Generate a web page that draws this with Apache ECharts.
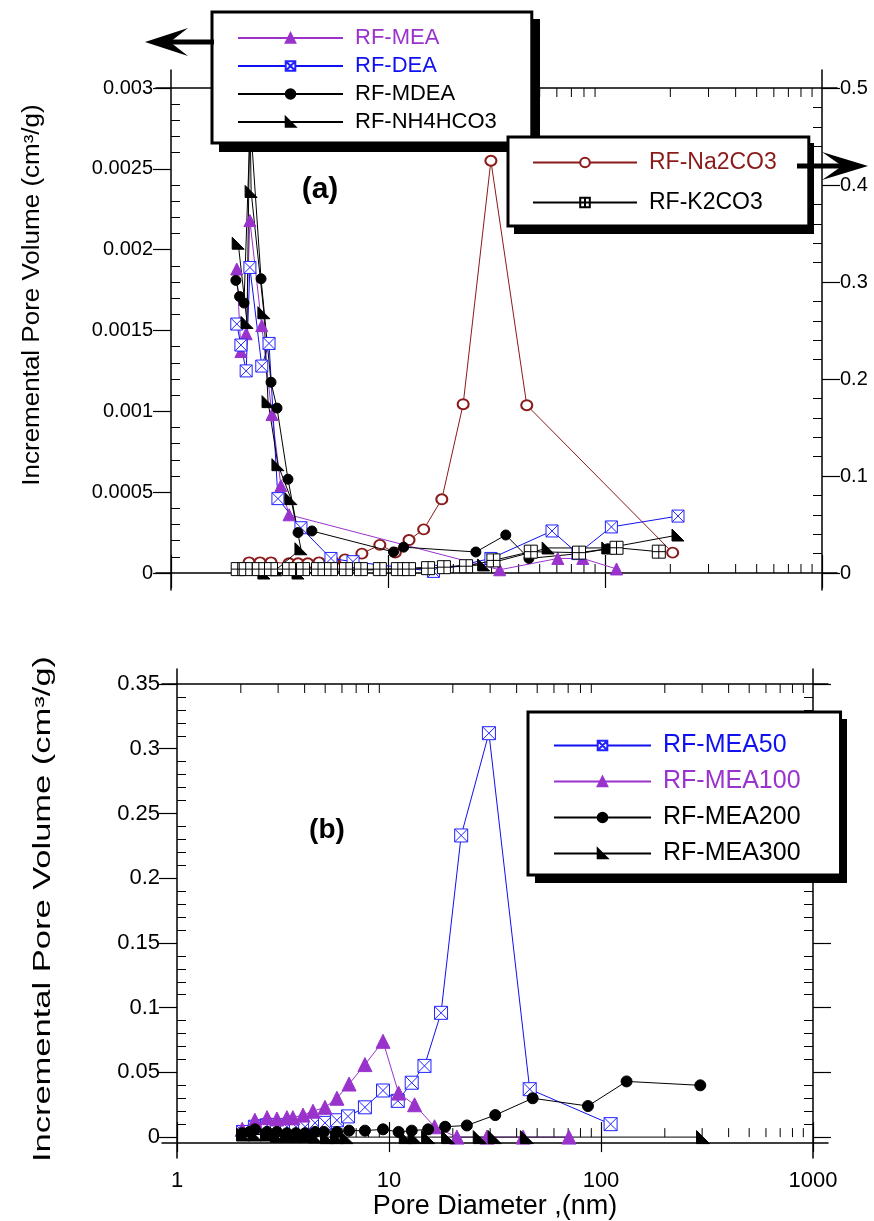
<!DOCTYPE html>
<html><head><meta charset="utf-8">
<script src="https://cdn.jsdelivr.net/npm/echarts@6/dist/echarts.min.js"></script>
<style>html,body{margin:0;padding:0;background:#fff;}#c{width:874px;height:1221px;}</style>
</head><body><div id="c"></div>
<script>
// ---------- DATA (panel a: left axis) ----------
const rfMEA = [[2.01,0.00188],[2.10,0.00137],[2.22,0.00148],[2.31,0.00218],[2.62,0.00153],[2.92,0.00098],[3.21,0.00054],[3.50,0.00036],[32.7,0.00002],[60.6,0.00009],[79,0.00009],[113,0.000025]];
const rfDEA = [[2.01,0.00154],[2.10,0.00141],[2.22,0.00125],[2.31,0.00189],[2.62,0.00128],[2.83,0.00142],[3.11,0.00046],[3.97,0.00028],[5.46,0.00009],[6.9,0.00007],[16.2,0.00001],[29.8,0.00009],[57,0.00026],[75,0.00012],[107,0.000285],[217,0.000352]];
const rfMDEA = [[1.99,0.00181],[2.07,0.00171],[2.17,0.00167],[2.32,0.0028],[2.60,0.00182],[2.89,0.00118],[3.08,0.00102],[3.46,0.00058],[3.85,0.00025],[4.46,0.00026],[10.6,0.00013],[11.8,0.00016],[25.4,0.00013],[34.9,0.000235],[44.6,0.00009],[76,0.00012],[103,0.00015]];
const rfNH4HCO3 = [[2.04,0.00204],[2.24,0.00155],[2.31,0.0029],[2.34,0.00236],[2.68,0.00161],[2.80,0.00106],[3.11,0.00067],[3.57,0.00046],[3.97,0.00015],[3.05,0.00002],[2.68,0],[3.85,0],[27.6,0.00005],[54.7,0.000155],[103,0.000155],[217,0.000235]];
// ---------- DATA (panel a: right axis) ----------
const rfNa2CO3 = [[2.29,0.011],[2.57,0.011],[2.89,0.011],[3.50,0.010],[3.85,0.010],[4.27,0.010],[4.81,0.011],[5.57,0.012],[6.33,0.014],[7.58,0.020],[9.17,0.029],[10.8,0.021],[12.5,0.034],[14.6,0.045],[17.7,0.076],[22.2,0.174],[29.8,0.425],[43.6,0.173],[205,0.021]];
const rfK2CO3 = [[2.03,0.004],[2.21,0.004],[2.54,0.004],[2.89,0.004],[3.5,0.004],[4.06,0.004],[4.76,0.004],[5.46,0.004],[6.4,0.004],[7.5,0.004],[9.17,0.004],[11.1,0.004],[12.5,0.004],[15.3,0.005],[18.1,0.006],[22.9,0.007],[30.6,0.013],[45.5,0.022],[75.9,0.021],[113,0.026],[177,0.022]];
// ---------- DATA (panel b) ----------
const rfMEA50 = [[2.05,0.004],[2.33,0.008],[2.66,0.009],[2.96,0.009],[3.30,0.008],[3.64,0.008],[4.02,0.008],[4.48,0.011],[4.99,0.011],[5.68,0.013],[6.41,0.016],[7.70,0.023],[9.37,0.036],[11.0,0.028],[12.8,0.042],[14.7,0.055],[17.6,0.096],[21.9,0.233],[29.6,0.312],[46.1,0.037],[111,0.010]];
const rfMEA100 = [[2.03,0.006],[2.33,0.013],[2.66,0.015],[2.96,0.014],[3.30,0.015],[3.52,0.015],[3.93,0.017],[4.38,0.020],[4.99,0.023],[5.68,0.030],[6.48,0.041],[7.70,0.056],[9.37,0.074],[11.1,0.034],[13.2,0.025],[16.4,0.008],[20.9,0.0],[29.0,0.0],[42.9,0.0],[70.6,0.0]];
const rfMEA200 = [[2.03,0.003],[2.2,0.004],[2.33,0.006],[2.66,0.004],[2.96,0.004],[3.3,0.003],[3.64,0.003],[4.02,0.003],[4.48,0.004],[4.93,0.004],[5.68,0.004],[6.48,0.005],[7.7,0.005],[9.37,0.006],[11.1,0.004],[12.8,0.005],[15.3,0.006],[18.4,0.008],[23.3,0.009],[31.7,0.017],[47.6,0.030],[86.8,0.024],[132,0.043],[294,0.040]];
const rfMEA300 = [[2.05,0.002],[2.33,0.002],[2.66,0.002],[2.96,0.001],[3.3,0.001],[3.64,0.001],[4.02,0.001],[4.48,0.0005],[5.1,0],[5.68,0],[6.3,0],[12.0,0],[13.2,0],[15.3,0],[19,0],[26.8,0],[31.5,0],[44.7,0],[303,0]];
// ---------- TICKS ----------
const xMajorLabels = ['1','10','100','1000'];
const xMinorTicks = [2,3,4,5,6,7,8,9,20,30,40,50,60,70,80,90,200,300,400,500,600,700,800,900];
const yTicksA = [0,0.0005,0.001,0.0015,0.002,0.0025,0.003];
const yTicksARight = [0,0.1,0.2,0.3,0.4,0.5];
const yTicksB = [0,0.05,0.1,0.15,0.2,0.25,0.3,0.35];

const FONT = '"Liberation Sans", Arial, sans-serif';
const PURPLE = '#9933CC', BLUE = '#1010F0', DARKRED = '#8B1A1A';
const SYM_BOXX = 'path://M0,0L10,0L10,10L0,10Z M0,0L10,10 M10,0L0,10';
const SYM_BOXPLUS = 'path://M0,0L10,0L10,10L0,10Z M5,0L5,10 M0,5L10,5';
const SYM_RTRI = 'path://M0,0L0,10L10,10Z';

const chart = echarts.init(document.getElementById('c'), null, {renderer:'canvas'});

function fmt(v){ return String(+v.toFixed(5)); }

function logX(gridIndex, pos, tickLen, showLabel) {
  return {
    type:'log', logBase:10, min:1, max:1000, gridIndex, position:pos,
    axisLine:{show:false}, splitLine:{show:false},
    axisTick:{show:true, length:tickLen, lineStyle:{color:'#000', width:1.2}},
    axisLabel:{show:showLabel, fontFamily:FONT, fontSize:22, color:'#000', margin:33,
      formatter:(v)=>{ const i=Math.round(Math.log10(v)); return xMajorLabels[i]; }},
    minorTick:{show:false}
  };
}
function valY(gridIndex, pos, ticks, showLabel, fs, margin) {
  return {
    type:'value', gridIndex, position:pos, min:ticks[0], max:ticks[ticks.length-1],
    interval: ticks[1]-ticks[0],
    axisLine:{show:false}, splitLine:{show:false},
    axisTick:{show:true, length:18, lineStyle:{color:'#000', width:1.2}},
    minorTick:{show:true, splitNumber:5, length:-9, lineStyle:{color:'#000', width:1}},
    axisLabel:{show:showLabel, fontFamily:FONT, fontSize:fs, color:'#000', margin:margin, formatter:fmt}
  };
}
function frameX(gridIndex, pos, offset){
  return {type:'value', gridIndex, position:pos, offset, min:0, max:1, show:true,
    axisLine:{show:true, onZero:false, lineStyle:{color:'#000', width:1.5}},
    axisTick:{show:false}, axisLabel:{show:false}, splitLine:{show:false}};
}
function frameY(gridIndex, pos, offset){
  return {type:'value', gridIndex, position:pos, offset, min:0, max:1, show:true,
    axisLine:{show:true, onZero:false, lineStyle:{color:'#000', width:1.5}},
    axisTick:{show:false}, axisLabel:{show:false}, splitLine:{show:false}};
}
function minorTicks(xi, yi, yMin, yMax, len){
  return {
    type:'custom', xAxisIndex:xi, yAxisIndex:yi, silent:true, clip:false, z:1,
    data: xMinorTicks.map(v=>[v, yMin]),
    renderItem:function(params, api){
      const v = api.value(0);
      const b = api.coord([v, yMin]);
      const t = api.coord([v, yMax]);
      return {type:'group', children:[
        {type:'line', shape:{x1:b[0], y1:b[1], x2:b[0], y2:b[1]-len}, style:{stroke:'#000', lineWidth:1}},
        {type:'line', shape:{x1:t[0], y1:t[1], x2:t[0], y2:t[1]+len}, style:{stroke:'#000', lineWidth:1}}
      ]};
    }
  };
}
function lineSeries(name, data, xi, yi, symbol, size, fill, stroke, lineColor, z){
  return {
    name, type:'line', data, xAxisIndex:xi, yAxisIndex:yi, symbol, symbolSize:size,
    showSymbol:true, clip:false, z:z||3, animation:false,
    lineStyle:{color:lineColor, width:1},
    itemStyle:{color:fill, borderColor:stroke, borderWidth:1}
  };
}
function legendBox(names, colors, left, top, padding, itemWidth, itemGap, fs){
  return {
    show:true, orient:'vertical', left, top, padding, itemWidth, itemHeight:12, itemGap, z:6,
    selectedMode:false, backgroundColor:'#fff', borderColor:'#000', borderWidth:3, borderRadius:0,
    data: names.map((n,i)=>({name:n, textStyle:{color:colors[i]}})),
    textStyle:{fontFamily:FONT, fontSize:fs, padding:[0,0,0,7]}
  };
}

const option = {
  backgroundColor:'#fff',
  animation:false,
  grid:[
    {left:171, top:88, width:651, height:485},
    {left:177, top:684, width:636, height:459},
    {left:156, top:70, width:681, height:520},
    {left:162, top:669, width:666, height:489}
  ],
  xAxis:[
    logX(0,'bottom',15,false),
    logX(0,'top',18,false),
    Object.assign(logX(1,'bottom',15,true), {name:'Pore Diameter ,(nm)', nameLocation:'middle', nameGap:52,
      nameTextStyle:{fontFamily:FONT, fontSize:27, color:'#000'}}),
    logX(1,'top',15,false),
    frameX(2,'bottom',-17), frameX(2,'top',-18),
    frameX(3,'bottom',-15), frameX(3,'top',-15)
  ],
  yAxis:[
    valY(0,'left',yTicksA,true,20,18),
    valY(0,'right',yTicksARight,true,20,18),
    valY(1,'left',yTicksB,true,22,17),
    valY(1,'right',yTicksB,false,22,17),
    frameY(2,'left',-15), frameY(2,'right',-15),
    frameY(3,'left',-15), frameY(3,'right',-15)
  ],
  legend:[
    legendBox(['RF-MEA','RF-DEA','RF-MDEA','RF-NH4HCO3'], [PURPLE, BLUE,'#000','#000'], 212, 12, [15,35,10,25], 105, 6, 22),
    legendBox(['RF-Na2CO3','RF-K2CO3'], [DARKRED,'#000'], 508, 137, [14,32,12,24], 104, 17, 23),
    legendBox(['RF-MEA50','RF-MEA100','RF-MEA200','RF-MEA300'], [BLUE, PURPLE,'#000','#000'], 528, 712, [21,40,9,25], 97, 11, 25)
  ],
  series:[
    minorTicks(0,0,0,0.003,9),
    minorTicks(2,2,0,0.35,9),
    lineSeries('RF-Na2CO3', rfNa2CO3, 0,1, 'emptyCircle', [11,10], DARKRED, DARKRED, DARKRED, 2),
    lineSeries('RF-MEA', rfMEA, 0,0, 'triangle', 12, PURPLE, PURPLE, PURPLE, 3),
    lineSeries('RF-DEA', rfDEA, 0,0, SYM_BOXX, 12, '#fff', '#2222FF', BLUE, 3),
    lineSeries('RF-MDEA', rfMDEA, 0,0, 'circle', 10, '#000', '#000', '#000', 3),
    lineSeries('RF-NH4HCO3', rfNH4HCO3, 0,0, SYM_RTRI, 12, '#000', '#000', '#000', 3),
    lineSeries('RF-K2CO3', rfK2CO3, 0,1, SYM_BOXPLUS, 13, '#fff', '#000', '#000', 4),
    lineSeries('RF-MEA50', rfMEA50, 2,2, SYM_BOXX, 13, '#fff', '#2222FF', BLUE, 3),
    lineSeries('RF-MEA100', rfMEA100, 2,2, 'triangle', 14, PURPLE, PURPLE, PURPLE, 3),
    lineSeries('RF-MEA200', rfMEA200, 2,2, 'circle', 11, '#000', '#000', '#000', 3),
    lineSeries('RF-MEA300', rfMEA300, 2,2, SYM_RTRI, 13, '#000', '#000', '#000', 3)
  ],
  graphic:[
    // legend drop shadows
    {type:'rect', shape:{x:219, y:19, width:321, height:133}, style:{fill:'#000'}, z:5},
    {type:'rect', shape:{x:514, y:143, width:300, height:91}, style:{fill:'#000'}, z:5},
    {type:'rect', shape:{x:535, y:719, width:312, height:164}, style:{fill:'#000'}, z:5},
    {type:'text', x:33, y:295, rotation:Math.PI/2, scaleX:1.13, z:10,
      style:{text:'Incremental Pore Volume (cm³/g)', font:'23px '+FONT, fill:'#000', align:'center', verticalAlign:'middle'}},
    {type:'text', x:44, y:909, rotation:Math.PI/2, scaleX:1.5, z:10,
      style:{text:'Incremental Pore Volume (cm³/g)', font:'23px '+FONT, fill:'#000', align:'center', verticalAlign:'middle'}},
    {type:'text', x:320, y:190, z:10, style:{text:'(a)', font:'bold 30px '+FONT, fill:'#000', align:'center', verticalAlign:'middle'}},
    {type:'text', x:327, y:830, z:10, style:{text:'(b)', font:'bold 28px '+FONT, fill:'#000', align:'center', verticalAlign:'middle'}},
    {type:'rect', shape:{x:168, y:39.5, width:46, height:5}, style:{fill:'#000'}, z:10},
    {type:'polygon', shape:{points:[[145,42],[188,28],[170,42],[188,56]]}, style:{fill:'#000'}, z:10},
    {type:'rect', shape:{x:797, y:163.5, width:48, height:5}, style:{fill:'#000'}, z:10},
    {type:'polygon', shape:{points:[[868,166],[822,152],[842,166],[822,180]]}, style:{fill:'#000'}, z:10}
  ]
};
chart.setOption(option);
</script></body></html>
